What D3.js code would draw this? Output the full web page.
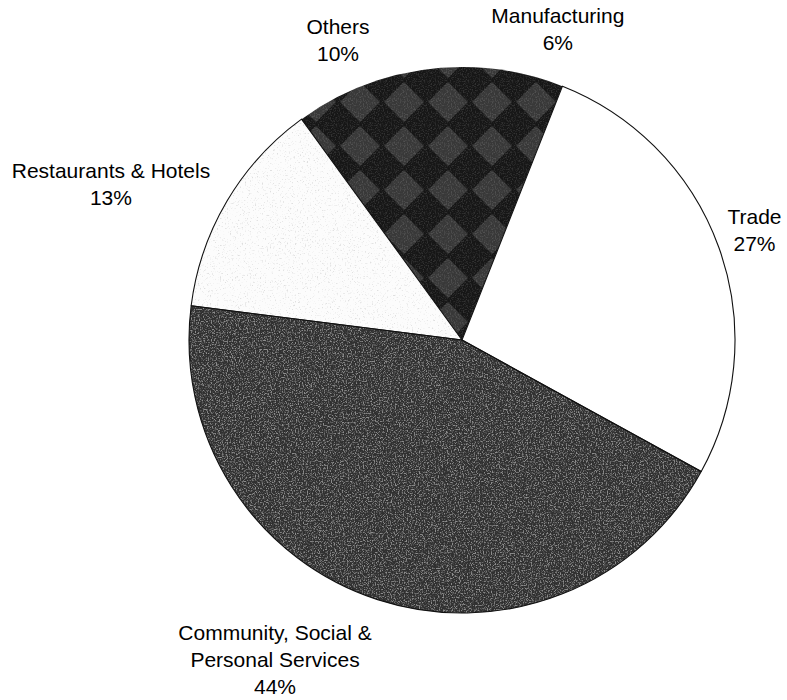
<!DOCTYPE html>
<html>
<head>
<meta charset="utf-8">
<script src="https://cdn.jsdelivr.net/npm/d3@7"></script>
<style>
  body { margin: 0; background: #fff; }
</style>
</head>
<body>
<div id="chart"></div>
<script>

// data, clockwise from 12 o'clock
const categories = ["Manufacturing", "Trade", "Community, Social & Personal Services", "Restaurants & Hotels", "Others"];
const shares = [6, 27, 44, 13, 10];
const labelLines = [
  ["Manufacturing"],
  ["Trade"],
  ["Community, Social &", "Personal Services"],
  ["Restaurants & Hotels"],
  ["Others"]
];

// look of each slice and how far each label is pushed off its centroid
const sliceFills = ["url(#diamonds)", "#ffffff", "url(#grain)", "url(#speckle)", "url(#diamonds)"];
const sliceOutlined = [false, true, true, true, false];
const labelNudge = [[34, 14], [-18, 2], [-85, 6], [-67, 12.5], [-22, 14.5]];

const width = 787, height = 700;
const cx = 462, cy = 340, radius = 273;
const lineHeight = 27;

const rows = categories.map((c, i) => ({name: c, value: shares[i], lines: labelLines[i], i: i}));

const svg = d3.select("#chart")
  .append("svg")
    .attr("width", width)
    .attr("height", height);

const defs = svg.append("defs");

// dark checkered diamonds (Manufacturing / Others)
const diamonds = defs.append("pattern")
  .attr("id", "diamonds")
  .attr("patternUnits", "userSpaceOnUse")
  .attr("x", 8).attr("y", 4)
  .attr("width", 44).attr("height", 44);
diamonds.append("rect").attr("width", 44).attr("height", 44).attr("fill", "#161616");
diamonds.append("path").attr("d", "M22 2L42 22L22 42L2 22Z").attr("fill", "#383838");
diamonds.append("rect").attr("width", 44).attr("height", 44)
  .attr("filter", "url(#lightNoise)").attr("opacity", 0.12);

// noise filters
const lightNoise = defs.append("filter").attr("id", "lightNoise")
  .attr("x", 0).attr("y", 0).attr("width", "100%").attr("height", "100%");
lightNoise.append("feTurbulence")
  .attr("type", "fractalNoise").attr("baseFrequency", 0.75).attr("numOctaves", 2).attr("seed", 4);
lightNoise.append("feColorMatrix")
  .attr("type", "matrix")
  .attr("values", "0 0 0 0 1  0 0 0 0 1  0 0 0 0 1  4 0 0 0 -1.9");

const darkNoise = defs.append("filter").attr("id", "darkNoise")
  .attr("x", 0).attr("y", 0).attr("width", "100%").attr("height", "100%");
darkNoise.append("feTurbulence")
  .attr("type", "fractalNoise").attr("baseFrequency", 0.6).attr("numOctaves", 2).attr("seed", 9);
darkNoise.append("feColorMatrix")
  .attr("type", "matrix")
  .attr("values", "0 0 0 0 0.45  0 0 0 0 0.45  0 0 0 0 0.45  5 0 0 0 -3.0");

// community: dark grey grain
const grain = defs.append("pattern")
  .attr("id", "grain")
  .attr("patternUnits", "userSpaceOnUse")
  .attr("width", 300).attr("height", 300);
grain.append("rect").attr("width", 300).attr("height", 300).attr("fill", "#303030");
grain.append("rect").attr("width", 300).attr("height", 300)
  .attr("filter", "url(#lightNoise)").attr("opacity", 0.45);

// restaurants: white with faint grey speckles
const speckle = defs.append("pattern")
  .attr("id", "speckle")
  .attr("patternUnits", "userSpaceOnUse")
  .attr("width", 300).attr("height", 300);
speckle.append("rect").attr("width", 300).attr("height", 300).attr("fill", "#fcfcfc");
speckle.append("rect").attr("width", 300).attr("height", 300)
  .attr("filter", "url(#darkNoise)").attr("opacity", 0.4);

const pie = d3.pie()
  .sort(null)
  .value(d => d.value);

const arc = d3.arc()
  .innerRadius(0)
  .outerRadius(radius);

const labelArc = d3.arc()
  .innerRadius(330)
  .outerRadius(330);

const arcs = pie(rows);

const g = svg.append("g")
  .attr("transform", `translate(${cx},${cy})`);

// slices
g.selectAll(".slice")
  .data(arcs)
  .join("path")
    .attr("class", "slice")
    .attr("d", arc)
    .attr("fill", d => sliceFills[d.data.i]);

// white inner rim on the community slice
const community = arcs[2];
defs.append("clipPath")
  .attr("id", "communityClip")
  .append("path")
    .attr("transform", `translate(${cx},${cy})`)
    .attr("d", arc(community));

svg.append("path")
  .attr("transform", `translate(${cx},${cy})`)
  .attr("d", arc(community))
  .attr("fill", "none")
  .attr("stroke", "#ffffff")
  .attr("stroke-width", 5)
  .attr("clip-path", "url(#communityClip)");

// outlines (the dark wedges need none, their shared edge stays hidden)
g.selectAll(".outline")
  .data(arcs.filter(d => sliceOutlined[d.data.i]))
  .join("path")
    .attr("class", "outline")
    .attr("d", arc)
    .attr("fill", "none")
    .attr("stroke", "#111")
    .attr("stroke-width", 1.1)
    .attr("stroke-linejoin", "round");

// labels
const labels = g.selectAll(".label")
  .data(arcs)
  .join("text")
    .attr("class", "label")
    .attr("text-anchor", "middle")
    .style("font-family", "'Liberation Sans', Arial, sans-serif")
    .style("font-size", "21px")
    .style("fill", "#000")
    .attr("transform", d => {
      const [x, y] = labelArc.centroid(d);
      const n = labelNudge[d.data.i];
      return `translate(${x + n[0]},${y + n[1]})`;
    });

labels.each(function(d) {
  const lines = d.data.lines.concat([d.data.value + "%"]);
  const n = lines.length;
  d3.select(this).selectAll("tspan")
    .data(lines)
    .join("tspan")
      .attr("x", 0)
      .attr("y", (t, i) => (i - (n - 1) / 2) * lineHeight + 7)
      .text(t => t);
});

</script>
</body>
</html>
